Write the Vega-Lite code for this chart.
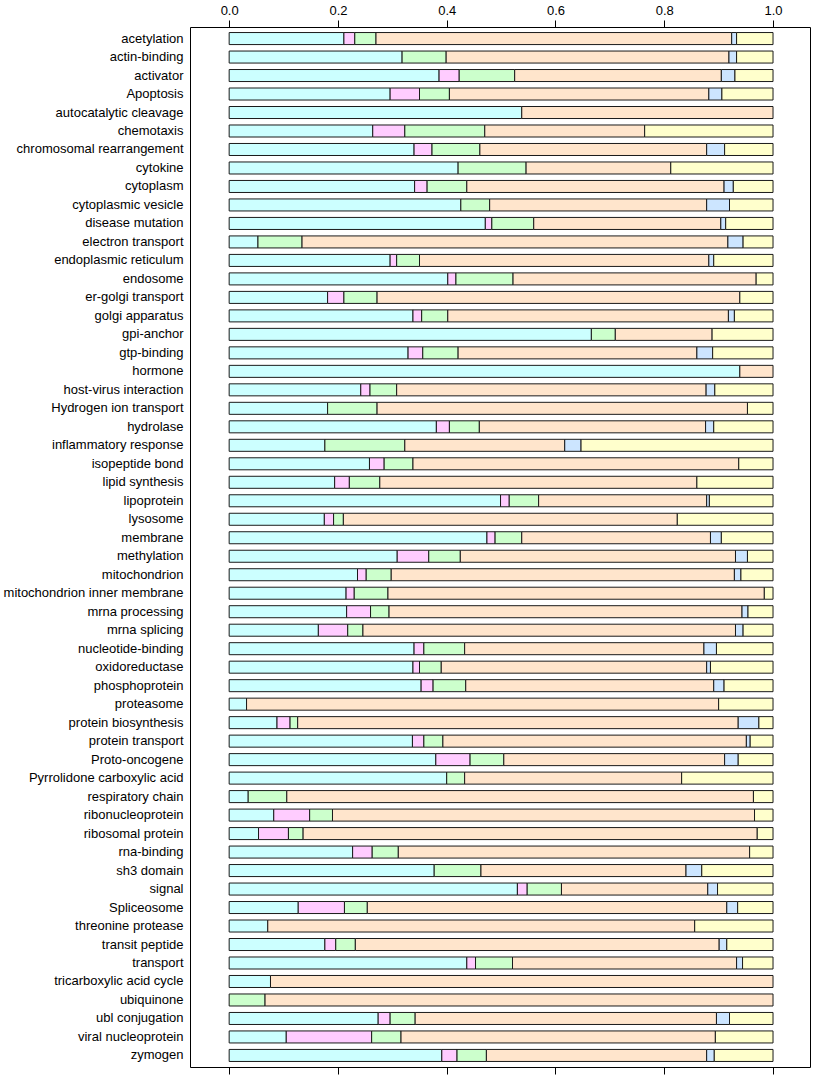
{
  "$schema": "https://vega.github.io/schema/vega-lite/v6.json",
  "autosize": {"type": "none"},
  "padding": {"left": 190, "top": 27, "right": 6, "bottom": 11},
  "width": 620,
  "height": 1040,
  "background": "white",
  "config": {
    "view": {"stroke": "#000000", "strokeWidth": 1},
    "font": "Liberation Sans",
    "axis": {"labelFont": "Liberation Sans", "labelColor": "#000000", "tickColor": "#000000", "grid": false, "domain": false}
  },
  "data": {
    "values": [
      {"t": "acetylation", "A": 0.211, "B": 0.020, "C": 0.039, "D": 0.654, "E": 0.009, "F": 0.067},
      {"t": "actin-binding", "A": 0.318, "B": 0, "C": 0.081, "D": 0.520, "E": 0.014, "F": 0.067},
      {"t": "activator", "A": 0.386, "B": 0.037, "C": 0.102, "D": 0.380, "E": 0.025, "F": 0.070},
      {"t": "Apoptosis", "A": 0.296, "B": 0.054, "C": 0.055, "D": 0.477, "E": 0.024, "F": 0.094},
      {"t": "autocatalytic cleavage", "A": 0.538, "B": 0, "C": 0, "D": 0.462, "E": 0, "F": 0},
      {"t": "chemotaxis", "A": 0.264, "B": 0.059, "C": 0.147, "D": 0.294, "E": 0, "F": 0.236},
      {"t": "chromosomal rearrangement", "A": 0.340, "B": 0.033, "C": 0.088, "D": 0.417, "E": 0.033, "F": 0.089},
      {"t": "cytokine", "A": 0.421, "B": 0, "C": 0.125, "D": 0.266, "E": 0, "F": 0.188},
      {"t": "cytoplasm", "A": 0.341, "B": 0.023, "C": 0.073, "D": 0.473, "E": 0.017, "F": 0.073},
      {"t": "cytoplasmic vesicle", "A": 0.426, "B": 0, "C": 0.053, "D": 0.399, "E": 0.042, "F": 0.080},
      {"t": "disease mutation", "A": 0.471, "B": 0.012, "C": 0.077, "D": 0.344, "E": 0.009, "F": 0.087},
      {"t": "electron transport", "A": 0.053, "B": 0, "C": 0.081, "D": 0.783, "E": 0.028, "F": 0.055},
      {"t": "endoplasmic reticulum", "A": 0.296, "B": 0.012, "C": 0.042, "D": 0.532, "E": 0.009, "F": 0.109},
      {"t": "endosome", "A": 0.402, "B": 0.015, "C": 0.105, "D": 0.447, "E": 0, "F": 0.031},
      {"t": "er-golgi transport", "A": 0.181, "B": 0.030, "C": 0.061, "D": 0.667, "E": 0, "F": 0.061},
      {"t": "golgi apparatus", "A": 0.338, "B": 0.016, "C": 0.048, "D": 0.516, "E": 0.011, "F": 0.071},
      {"t": "gpi-anchor", "A": 0.666, "B": 0, "C": 0.044, "D": 0.178, "E": 0, "F": 0.112},
      {"t": "gtp-binding", "A": 0.329, "B": 0.027, "C": 0.065, "D": 0.439, "E": 0.029, "F": 0.111},
      {"t": "hormone", "A": 0.939, "B": 0, "C": 0, "D": 0.061, "E": 0, "F": 0},
      {"t": "host-virus interaction", "A": 0.242, "B": 0.017, "C": 0.049, "D": 0.569, "E": 0.016, "F": 0.107},
      {"t": "Hydrogen ion transport", "A": 0.181, "B": 0, "C": 0.091, "D": 0.681, "E": 0, "F": 0.047},
      {"t": "hydrolase", "A": 0.381, "B": 0.024, "C": 0.055, "D": 0.416, "E": 0.015, "F": 0.109},
      {"t": "inflammatory response", "A": 0.176, "B": 0, "C": 0.147, "D": 0.294, "E": 0.030, "F": 0.353},
      {"t": "isopeptide bond", "A": 0.258, "B": 0.027, "C": 0.053, "D": 0.599, "E": 0, "F": 0.063},
      {"t": "lipid synthesis", "A": 0.194, "B": 0.027, "C": 0.056, "D": 0.583, "E": 0, "F": 0.140},
      {"t": "lipoprotein", "A": 0.499, "B": 0.016, "C": 0.054, "D": 0.309, "E": 0.005, "F": 0.117},
      {"t": "lysosome", "A": 0.175, "B": 0.017, "C": 0.018, "D": 0.614, "E": 0, "F": 0.176},
      {"t": "membrane", "A": 0.474, "B": 0.015, "C": 0.049, "D": 0.347, "E": 0.020, "F": 0.095},
      {"t": "methylation", "A": 0.309, "B": 0.058, "C": 0.058, "D": 0.506, "E": 0.022, "F": 0.047},
      {"t": "mitochondrion", "A": 0.236, "B": 0.016, "C": 0.046, "D": 0.631, "E": 0.012, "F": 0.059},
      {"t": "mitochondrion inner membrane", "A": 0.215, "B": 0.015, "C": 0.062, "D": 0.692, "E": 0, "F": 0.016},
      {"t": "mrna processing", "A": 0.216, "B": 0.044, "C": 0.034, "D": 0.649, "E": 0.011, "F": 0.046},
      {"t": "mrna splicing", "A": 0.164, "B": 0.054, "C": 0.028, "D": 0.685, "E": 0.014, "F": 0.055},
      {"t": "nucleotide-binding", "A": 0.340, "B": 0.018, "C": 0.075, "D": 0.440, "E": 0.023, "F": 0.104},
      {"t": "oxidoreductase", "A": 0.338, "B": 0.012, "C": 0.040, "D": 0.488, "E": 0.007, "F": 0.115},
      {"t": "phosphoprotein", "A": 0.353, "B": 0.022, "C": 0.060, "D": 0.456, "E": 0.019, "F": 0.090},
      {"t": "proteasome", "A": 0.032, "B": 0, "C": 0, "D": 0.868, "E": 0, "F": 0.100},
      {"t": "protein biosynthesis", "A": 0.088, "B": 0.024, "C": 0.014, "D": 0.810, "E": 0.038, "F": 0.026},
      {"t": "protein transport", "A": 0.337, "B": 0.021, "C": 0.035, "D": 0.558, "E": 0.007, "F": 0.042},
      {"t": "Proto-oncogene", "A": 0.380, "B": 0.063, "C": 0.062, "D": 0.406, "E": 0.025, "F": 0.064},
      {"t": "Pyrrolidone carboxylic acid", "A": 0.400, "B": 0, "C": 0.033, "D": 0.399, "E": 0, "F": 0.168},
      {"t": "respiratory chain", "A": 0.035, "B": 0, "C": 0.071, "D": 0.858, "E": 0, "F": 0.036},
      {"t": "ribonucleoprotein", "A": 0.082, "B": 0.066, "C": 0.042, "D": 0.776, "E": 0, "F": 0.034},
      {"t": "ribosomal protein", "A": 0.054, "B": 0.055, "C": 0.027, "D": 0.835, "E": 0, "F": 0.029},
      {"t": "rna-binding", "A": 0.227, "B": 0.036, "C": 0.048, "D": 0.646, "E": 0, "F": 0.043},
      {"t": "sh3 domain", "A": 0.377, "B": 0, "C": 0.086, "D": 0.377, "E": 0.029, "F": 0.131},
      {"t": "signal", "A": 0.530, "B": 0.018, "C": 0.063, "D": 0.269, "E": 0.018, "F": 0.102},
      {"t": "Spliceosome", "A": 0.127, "B": 0.085, "C": 0.042, "D": 0.661, "E": 0.020, "F": 0.065},
      {"t": "threonine protease", "A": 0.071, "B": 0, "C": 0, "D": 0.785, "E": 0, "F": 0.144},
      {"t": "transit peptide", "A": 0.176, "B": 0.020, "C": 0.036, "D": 0.669, "E": 0.014, "F": 0.085},
      {"t": "transport", "A": 0.437, "B": 0.016, "C": 0.068, "D": 0.412, "E": 0.011, "F": 0.056},
      {"t": "tricarboxylic acid cycle", "A": 0.076, "B": 0, "C": 0, "D": 0.924, "E": 0, "F": 0},
      {"t": "ubiquinone", "A": 0, "B": 0, "C": 0.066, "D": 0.934, "E": 0, "F": 0},
      {"t": "ubl conjugation", "A": 0.274, "B": 0.022, "C": 0.046, "D": 0.554, "E": 0.024, "F": 0.080},
      {"t": "viral nucleoprotein", "A": 0.105, "B": 0.157, "C": 0.054, "D": 0.578, "E": 0, "F": 0.106},
      {"t": "zymogen", "A": 0.391, "B": 0.028, "C": 0.054, "D": 0.405, "E": 0.014, "F": 0.108}
    ]
  },
  "transform": [
    {"fold": ["A", "B", "C", "D", "E", "F"], "as": ["group", "value"]},
    {"filter": "datum.value > 0"}
  ],
  "encoding": {
    "y": {
      "field": "t",
      "type": "nominal",
      "sort": null,
      "scale": {"paddingInner": 0.35, "paddingOuter": 0.3},
      "axis": {"title": null, "ticks": false, "domain": false, "labelPadding": 7, "labelFontSize": 13, "labelLimit": 0}
    }
  },
  "layer": [
    {
      "mark": {"type": "bar", "stroke": "#1a1a1a", "strokeWidth": 1},
      "encoding": {
        "x": {
          "field": "value",
          "type": "quantitative",
          "stack": "zero",
          "scale": {"domain": [-0.072, 1.068], "nice": false, "zero": false},
          "axis": {"orient": "top", "title": null, "values": [0, 0.2, 0.4, 0.6, 0.8, 1.0], "format": ".1f", "tickSize": 7, "labelFontSize": 13, "labelPadding": 3}
        },
        "color": {
          "field": "group",
          "type": "nominal",
          "sort": ["A", "B", "C", "D", "E", "F"],
          "scale": {"domain": ["A", "B", "C", "D", "E", "F"], "range": ["#CCFFFF", "#FFCCFF", "#CCFFCC", "#FFE5CC", "#CCE5FF", "#FFFFCC"]},
          "legend": null
        },
        "order": {"field": "group", "sort": "ascending"}
      }
    },
    {
      "mark": {"type": "point", "opacity": 0},
      "encoding": {
        "x": {
          "field": "value",
          "type": "quantitative",
          "scale": {"domain": [-0.072, 1.068], "nice": false, "zero": false},
          "axis": {"orient": "bottom", "title": null, "values": [0, 0.2, 0.4, 0.6, 0.8, 1.0], "labels": false, "tickSize": 7}
        }
      }
    }
  ],
  "resolve": {"axis": {"x": "independent"}}
}
